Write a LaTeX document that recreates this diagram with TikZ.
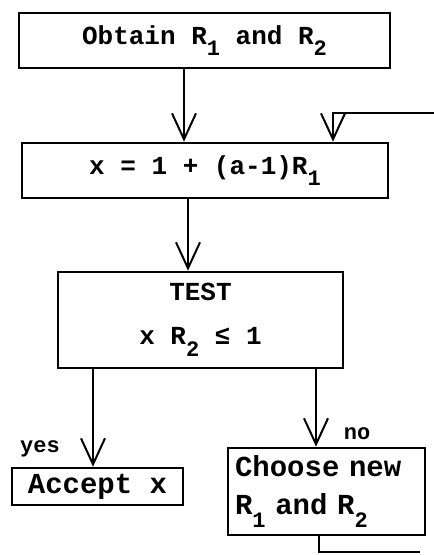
\documentclass[tikz,border=0pt]{standalone}
\usepackage{fontspec}
\setmonofont{Liberation Mono}
\usetikzlibrary{arrows.meta}
\newcommand{\lowsub}[1]{\raisebox{-0.45em}{\fontsize{22}{22}\selectfont #1}}

\begin{document}
\begin{tikzpicture}[x=1pt, y=-1pt,
  main node/.style={draw, line width=2.6pt, inner sep=0pt, font=\ttfamily\bfseries\fontsize{26}{30}\selectfont},
  label node/.style={inner sep=0pt, font=\ttfamily\bfseries\fontsize{22}{24}\selectfont},
  flow/.style={line width=2pt, -{Straight Barb[length=26pt,width=24pt,line width=2pt]}}]
\useasboundingbox (0,0) rectangle (434,555);

\node[main node, minimum width=371pt, minimum height=55pt] (obtain) at (204.5,40.5) {Obtain R\lowsub{1} and R\lowsub{2}};
\node[main node, minimum width=366pt, minimum height=55pt] (calc)   at (205,170.5) {x = 1 + (a-1)R\lowsub{1}};
\node[main node, minimum width=285pt, minimum height=96pt, align=center] (test) at (200.5,320) {TEST\\[14pt]x R\lowsub{2} ≤ 1};
\node[main node, minimum width=171pt, minimum height=37pt, font=\ttfamily\bfseries\fontsize{29}{30}\selectfont] (accept) at (97.5,486.5) {Accept x};
\node[main node, text width=183pt, inner sep=7pt, minimum height=87pt, align=left, font=\ttfamily\bfseries\fontsize{29}{38}\selectfont] (choose) at (326.5,491.5) {Choose new\\R\lowsub{1} and R\lowsub{2}};

\node[label node] (yes) at (40,449) {yes};
\node[label node] (no)  at (357,434) {no};

\coordinate (loopout) at (420,552);
\coordinate (loopin)  at (434,113);

\draw[flow] (obtain.south -| 184,0) -- (calc.north -| 184,0);
\draw[flow] (calc.south -| 188,0) -- (test.north -| 188,0);
\draw[flow] (test.south -| 93,0) -- (accept.north -| 93,0);
\draw[flow] (test.south -| 316,0) -- (choose.north -| 316,0);
\draw[line width=2pt] (choose.south -| 319,0) |- (loopout);
\draw[flow] (loopin) -| (calc.north -| 333,0);
\end{tikzpicture}
\end{document}
